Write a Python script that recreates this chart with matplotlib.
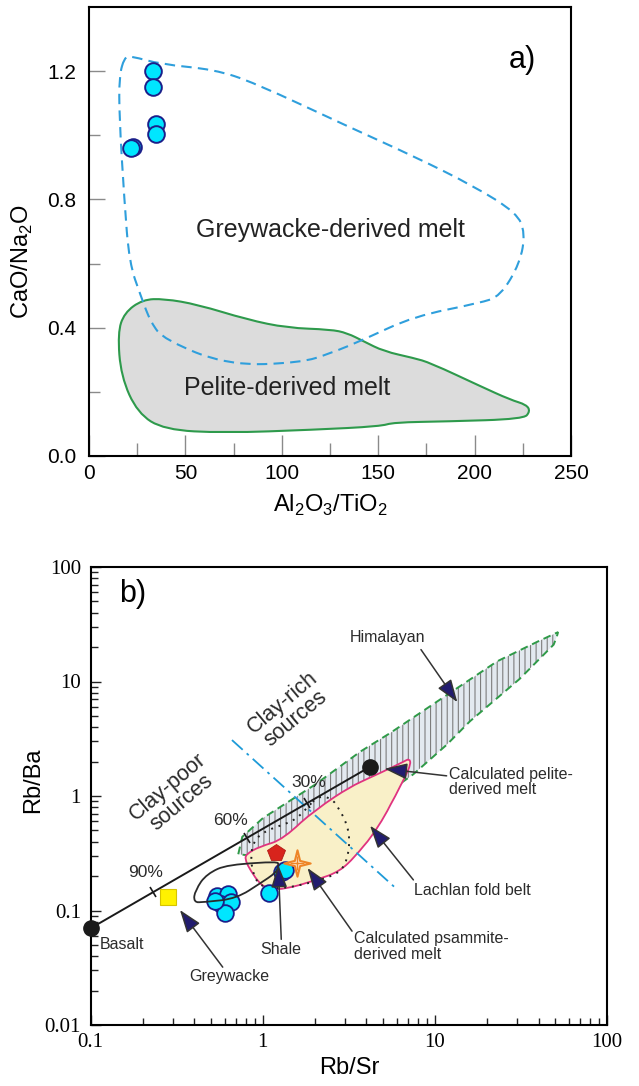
import numpy as np
import matplotlib.pyplot as plt
from matplotlib.patches import Polygon, PathPatch
from matplotlib.markers import MarkerStyle
from matplotlib.path import Path
from matplotlib.transforms import Affine2D
from matplotlib.ticker import LogLocator, NullFormatter

plt.rcParams['font.family'] = ['Liberation Sans', 'DejaVu Sans']
plt.rcParams['mathtext.fontset'] = 'custom'
plt.rcParams['mathtext.rm'] = 'Liberation Sans'
plt.rcParams['hatch.linewidth'] = 0.8

# ---- (a) CaO/Na2O vs Al2O3/TiO2 ----
a_sample_x = [33, 33, 35, 35, 23, 22]
a_sample_y = [1.20, 1.15, 1.035, 1.005, 0.965, 0.96]

greywacke_x = [18.3, 21.7, 37.3, 64.9, 85.6, 133.9, 168.4, 199.5, 221.9, 226.2,
               223.6, 213.3, 202.9, 168.4, 142.5, 125.4, 109.8, 71.8, 39.0, 32.1,
               26.9, 20.9, 18.3, 15.7, 15.7]
greywacke_y = [1.243, 1.248, 1.222, 1.206, 1.165, 1.029, 0.935, 0.842, 0.758, 0.696,
               0.602, 0.498, 0.477, 0.435, 0.3625, 0.32, 0.29, 0.282, 0.3625, 0.415,
               0.498, 0.602, 0.80, 1.06, 1.185]

pelite_x = [27.8, 39.0, 56.3, 82.1, 102.8, 125.3, 133.9, 142.5, 152.9, 168.4,
            177.0, 203.0, 218.4, 227.0, 228.8, 225.3, 185.6, 158.0, 151.1, 116.5,
            70.0, 39.0, 25.2, 16.6, 14.9, 18.3]
pelite_y = [0.4875, 0.49, 0.472, 0.425, 0.399, 0.394, 0.383, 0.357, 0.326, 0.305,
            0.29, 0.217, 0.175, 0.159, 0.138, 0.1145, 0.107, 0.104, 0.0917, 0.081,
            0.071, 0.081, 0.133, 0.248, 0.383, 0.446]

# ---- (b) Rb/Ba vs Rb/Sr ----
b_sample_x = [0.54, 0.63, 0.57, 0.65, 0.60, 0.53, 1.08, 1.30, 1.35]
b_sample_y = [0.135, 0.140, 0.114, 0.118, 0.096, 0.122, 0.143, 0.215, 0.225]

basalt = (0.10, 0.07)
pelite_melt = (4.2, 1.8)
greywacke_pt = (0.28, 0.13)
shale_pt = (1.19, 0.315)
psammite_pt = (1.58, 0.26)

mix_tick_x = [0.23, 0.81, 1.80]
mix_labels = ['90%', '60%', '30%']
mix_label_x = [0.2075, 0.645, 1.85]
mix_label_y = [0.2165, 0.615, 1.30]

himalayan_x = [0.72, 0.76, 1.0, 2.0, 3.7, 5.5, 11.7, 23, 40, 52,
               51, 49, 31, 16, 11.7, 7.5, 5.0, 3.6, 1.7, 0.88]
himalayan_y = [0.31, 0.44, 0.64, 1.25, 2.45, 3.55, 7.6, 15, 22.5, 27,
               24.5, 21, 10.5, 4.5, 2.8, 1.55, 1.0, 0.72, 0.42, 0.30]

lachlan_x = [0.80, 0.95, 1.32, 2.0, 3.2, 4.2, 5.5, 6.6, 7.1, 7.25, 6.7, 5.9, 5.1,
             4.3, 3.4, 2.8, 2.0, 1.3, 1.05, 0.93, 0.83, 0.79]
lachlan_y = [0.31, 0.36, 0.42, 0.75, 1.2, 1.45, 1.75, 2.0, 2.12, 1.9, 1.45, 1.0, 0.66,
             0.44, 0.29, 0.22, 0.183, 0.152, 0.155, 0.18, 0.235, 0.28]

psammite_field_x = [2.1, 2.5, 2.8, 3.1, 3.2, 3.1, 2.85, 2.3, 1.7, 1.25, 0.98, 0.88,
                    0.845, 0.9, 1.05, 1.3, 1.55, 1.8]
psammite_field_y = [1.0, 0.96, 0.75, 0.55, 0.40, 0.28, 0.22, 0.19, 0.168, 0.155, 0.16,
                    0.20, 0.30, 0.42, 0.50, 0.56, 0.62, 0.78]

shale_field_x = [0.396, 0.404, 0.473, 0.619, 1.21, 1.24, 1.20, 0.95, 0.707, 0.45]
shale_field_y = [0.118, 0.149, 0.209, 0.252, 0.268, 0.25, 0.215, 0.17, 0.128, 0.118]

clay_divide_x = [0.662, 5.94]
clay_divide_y = [3.08, 0.156]

NAVY = '#221c6e'
CYAN = '#00e6ff'
EDGE_NAVY = '#1b1f8a'
TXT = '#2b2b2b'


def rounded_outline(xs, ys):
    """Closed outline through the edge midpoints, vertices used as bezier controls."""
    pts = np.column_stack([xs, ys]).astype(float)
    mids = (pts + np.roll(pts, -1, axis=0)) / 2
    verts = [mids[-1]]
    codes = [Path.MOVETO]
    for p, m in zip(pts, mids):
        verts += [p, m]
        codes += [Path.CURVE3, Path.CURVE3]
    return Path(verts, codes)


fig = plt.figure(figsize=(6.39, 10.86), dpi=100)
ax_a = fig.add_axes([89 / 639, 1 - 455.7 / 1086, 482 / 639, 448.4 / 1086])
ax_b = fig.add_axes([90.7 / 639, 1 - 1025 / 1086, 516.3 / 639, 458 / 1086])

# ---------------- panel a ----------------
ax_a.set_xlim(0, 250)
ax_a.set_ylim(0, 1.4)

ax_a.add_patch(PathPatch(rounded_outline(pelite_x, pelite_y),
                         facecolor='#dcdcdc', edgecolor='#2e9a4c', lw=1.5, zorder=2))
ax_a.add_patch(PathPatch(rounded_outline(greywacke_x, greywacke_y), fill=False,
                         edgecolor='#2f9fdc', lw=1.5, linestyle=(0, (5, 3)),
                         zorder=3))
ax_a.plot(a_sample_x, a_sample_y, 'o', ms=12, mfc=CYAN, mec=EDGE_NAVY, mew=1.4,
          zorder=5)

ax_a.text(125, 0.706, 'Greywacke-derived melt', ha='center', va='center',
          fontsize=18, color='#222222')
ax_a.text(103, 0.211, 'Pelite-derived melt', ha='center', va='center',
          fontsize=18, color='#222222')
ax_a.text(225, 1.237, 'a)', ha='center', va='center', fontsize=22)

ax_a.set_xticks([0, 50, 100, 150, 200, 250])
ax_a.set_xticks([25, 75, 125, 175, 225], minor=True)
ax_a.set_yticks([0.0, 0.4, 0.8, 1.2])
ax_a.set_yticklabels(['0.0', '0.4', '0.8', '1.2'])
ax_a.set_yticks([0.2, 0.6, 1.0], minor=True)
ax_a.tick_params(axis='x', which='major', direction='in', length=15, width=1,
                 color='#8a8a8a', pad=6, labelsize=15)
ax_a.tick_params(axis='x', which='minor', direction='in', length=9.5, width=1,
                 color='#8a8a8a')
ax_a.tick_params(axis='y', which='major', direction='in', length=11.5, width=1,
                 color='#8a8a8a', pad=9, labelsize=15)
ax_a.tick_params(axis='y', which='minor', direction='in', length=8, width=1,
                 color='#8a8a8a')
for s in ax_a.spines.values():
    s.set_linewidth(1.5)

# ---------------- panel b ----------------
ax_b.set_xscale('log')
ax_b.set_yscale('log')
ax_b.set_xlim(0.1, 100)
ax_b.set_ylim(0.01, 100)

ax_b.add_patch(Polygon(np.column_stack([himalayan_x, himalayan_y]), closed=True,
                       facecolor='#e3e9f0', edgecolor='#7d7d7d', hatch='|||',
                       lw=0, zorder=2))
ax_b.add_patch(Polygon(np.column_stack([himalayan_x, himalayan_y]), closed=True,
                       fill=False, edgecolor='#2f9a48', lw=1.4,
                       linestyle=(0, (4, 2.5)), zorder=3))
ax_b.add_patch(PathPatch(rounded_outline(lachlan_x, lachlan_y),
                         facecolor='#f9f0c8', edgecolor='#e0337f', lw=1.3,
                         zorder=4))
ax_b.add_patch(PathPatch(rounded_outline(psammite_field_x, psammite_field_y),
                         fill=False, edgecolor='#222222', lw=1.4,
                         linestyle=(0, (1, 3)), zorder=5))
ax_b.plot(clay_divide_x, clay_divide_y, color='#1e9bd8', lw=1.3,
          linestyle=(0, (8, 3, 1.5, 3)), zorder=5)

# basalt - pelite melt mixing line with percentage ticks
ax_b.plot([basalt[0], pelite_melt[0]], [basalt[1], pelite_melt[1]],
          color='#1a1a1a', lw=1.4, zorder=6)
lx0, ly0 = np.log10(basalt)
lx1, ly1 = np.log10(pelite_melt)
slope = (ly1 - ly0) / (lx1 - lx0)
tick_y = 10 ** (ly0 + (np.log10(mix_tick_x) - lx0) * slope)
p0 = ax_b.transData.transform(basalt)
p1 = ax_b.transData.transform(pelite_melt)
ang = np.degrees(np.arctan2(p1[1] - p0[1], p1[0] - p0[0]))
ax_b.plot(mix_tick_x, tick_y, linestyle='none',
          marker=MarkerStyle('|', transform=Affine2D().rotate_deg(ang)),
          ms=9, mew=1.2, color='#1a1a1a', zorder=6)
for lab, x, y in zip(mix_labels, mix_label_x, mix_label_y):
    ax_b.text(x, y, lab, ha='center', va='center', fontsize=12.5, color=TXT,
              zorder=7)

ax_b.add_patch(PathPatch(rounded_outline(shale_field_x, shale_field_y), fill=False,
                         edgecolor='#2a2a2a', lw=1.3, zorder=8))

ax_b.plot(b_sample_x, b_sample_y, 'o', ms=12, mfc=CYAN, mec=EDGE_NAVY, mew=1.3,
          zorder=7)
ax_b.plot(*basalt, 'o', ms=11, color='#1a1a1a', zorder=9, clip_on=False)
ax_b.plot(*pelite_melt, 'o', ms=11, color='#1a1a1a', zorder=9)
ax_b.plot(*greywacke_pt, 's', ms=12, mfc='#fff200', mec='#d6c400', mew=0.8,
          zorder=9)
ax_b.plot(*shale_pt, 'p', ms=13, mfc='#d8241c', mec='#b01a14', mew=0.6, zorder=9)

ang4 = np.linspace(0, 2 * np.pi, 9)[:-1]
rad4 = np.where(np.arange(8) % 2 == 0, 1.0, 0.28)
star_verts = np.column_stack([rad4 * np.sin(ang4), rad4 * np.cos(ang4)])
star_path = Path(np.vstack([star_verts, star_verts[:1]]),
                 [Path.MOVETO] + [Path.LINETO] * 7 + [Path.CLOSEPOLY])
ax_b.plot(*psammite_pt, marker=star_path, ms=19, mfc='#fde6c8', mec='#ee8527',
          mew=1.5, zorder=9)
ax_b.plot(*psammite_pt, marker='+', ms=10, mec='#ee8527', mew=1.0, zorder=9)

# labelled arrows
arrows = [
    ((8.3, 19.0), (13.5, 6.6)),
    ((11.7, 1.5), (5.1, 1.73)),
    ((7.5, 0.185), (4.2, 0.55)),
    ((3.3, 0.066), (1.82, 0.235)),
    ((1.28, 0.056), (1.23, 0.25)),
    ((0.585, 0.032), (0.33, 0.101)),
]
for start, tip in arrows:
    ax_b.annotate('', xy=tip, xytext=start, zorder=10,
                  arrowprops=dict(arrowstyle='-|>,head_length=0.7,head_width=0.25',
                                  mutation_scale=20, fc=NAVY, ec='#333333',
                                  lw=1.1, shrinkA=0, shrinkB=0))

ax_b.text(5.3, 24, 'Himalayan', ha='center', va='center', fontsize=11.5, color=TXT)
ax_b.text(12.0, 1.33, 'Calculated pelite-\nderived melt', ha='left', va='center',
          fontsize=11.5, color=TXT, linespacing=1.05)
ax_b.text(7.6, 0.151, 'Lachlan fold belt', ha='left', va='center', fontsize=11.5,
          color=TXT)
ax_b.text(3.37, 0.0485, 'Calculated psammite-\nderived melt', ha='left',
          va='center', fontsize=11.5, color=TXT, linespacing=1.05)
ax_b.text(1.276, 0.0457, 'Shale', ha='center', va='center', fontsize=11.5,
          color=TXT)
ax_b.text(0.64, 0.0265, 'Greywacke', ha='center', va='center', fontsize=11.5,
          color=TXT)
ax_b.text(0.113, 0.0502, 'Basalt', ha='left', va='center', fontsize=11.5,
          color=TXT)
ax_b.text(0.308, 1.03, 'Clay-poor\nsources', ha='center', va='center',
          rotation=40, rotation_mode='anchor', fontsize=15.5, color=TXT,
          linespacing=1.0)
ax_b.text(1.42, 5.6, 'Clay-rich\nsources', ha='center', va='center',
          rotation=40, rotation_mode='anchor', fontsize=15.5, color=TXT,
          linespacing=1.0)
ax_b.text(0.175, 58, 'b)', ha='center', va='center', fontsize=22)

ax_b.set_xticks([0.1, 1, 10, 100], labels=['0.1', '1', '10', '100'])
ax_b.set_yticks([0.01, 0.1, 1, 10, 100], labels=['0.01', '0.1', '1', '10', '100'])
ax_b.xaxis.set_minor_locator(LogLocator(base=10, subs=np.arange(2, 10)))
ax_b.yaxis.set_minor_locator(LogLocator(base=10, subs=np.arange(2, 10)))
ax_b.xaxis.set_minor_formatter(NullFormatter())
ax_b.yaxis.set_minor_formatter(NullFormatter())
ax_b.tick_params(which='major', direction='in', length=7, width=1, color='#222222',
                 labelsize=15, labelfontfamily='Liberation Serif')
ax_b.tick_params(axis='x', which='major', pad=6)
ax_b.tick_params(axis='y', which='major', pad=7)
ax_b.tick_params(which='minor', direction='in', length=5, width=1, color='#222222')
for s in ax_b.spines.values():
    s.set_linewidth(1.5)

# axis titles
fig.text(22 / 639, 1 - 262 / 1086, 'CaO/Na$_\\mathregular{2}$O', rotation=90,
         ha='center', va='center', fontsize=17)
fig.text(330 / 639, 1 - 505 / 1086,
         'Al$_\\mathregular{2}$O$_\\mathregular{3}$/TiO$_\\mathregular{2}$',
         ha='center', va='center', fontsize=17)
fig.text(33 / 639, 1 - 780 / 1086, 'Rb/Ba', rotation=90, ha='center', va='center',
         fontsize=17)
fig.text(349 / 639, 1 - 1068 / 1086, 'Rb/Sr', ha='center', va='center',
         fontsize=17)

fig.savefig('out.png', dpi=100, facecolor='white')
